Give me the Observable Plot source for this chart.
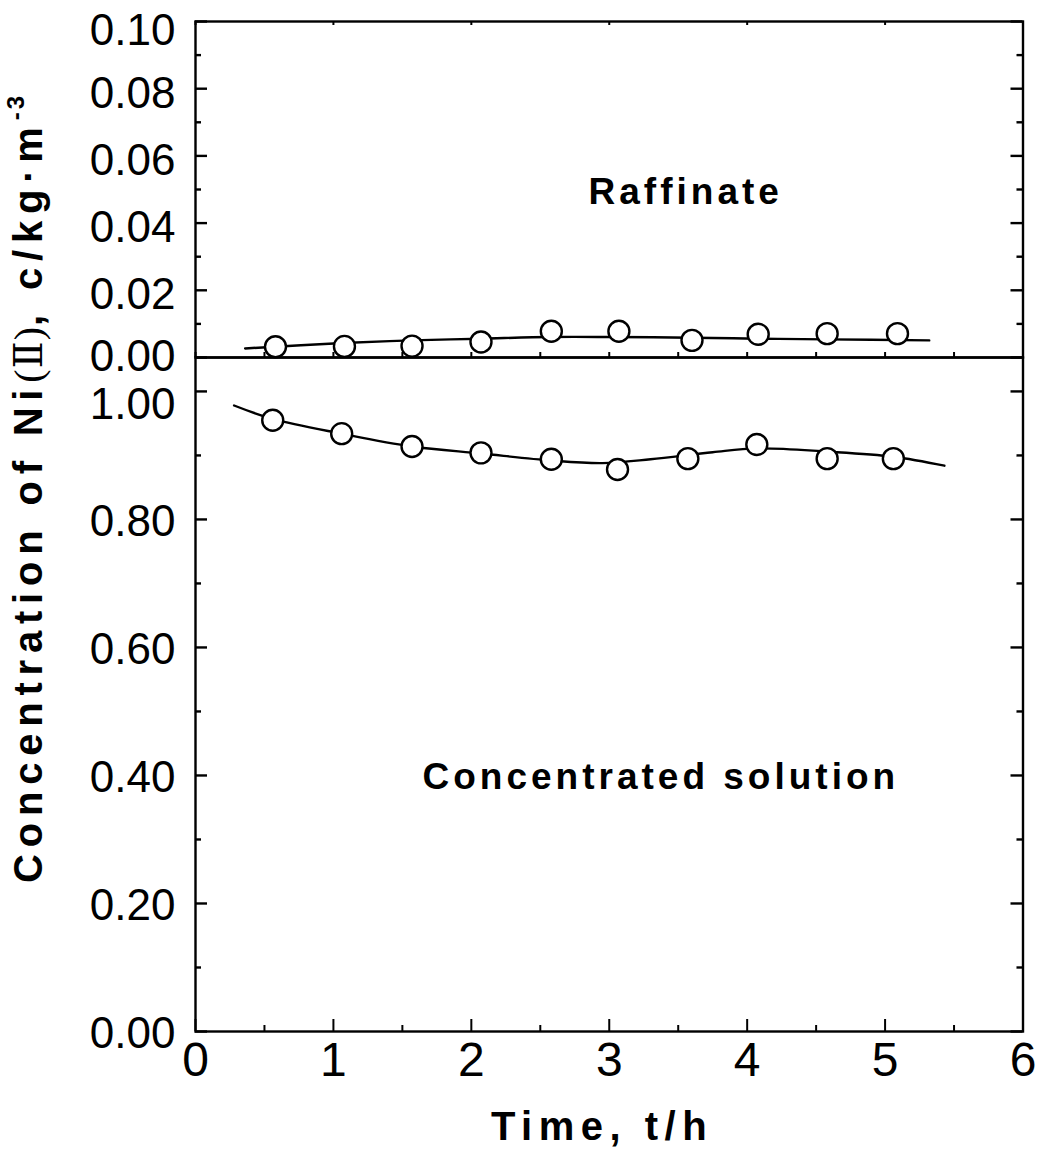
<!DOCTYPE html>
<html>
<head>
<meta charset="utf-8">
<script src="https://cdn.jsdelivr.net/npm/d3@7"></script>
<script src="https://cdn.jsdelivr.net/npm/@observablehq/plot@0.6"></script>
<style>
  html, body { margin: 0; padding: 0; background: #fff; }
  #chart { position: relative; width: 1045px; height: 1153px; overflow: hidden; background: #fff; }
  #chart > svg { position: absolute; left: 0; }
</style>
</head>
<body>
<div id="chart"></div>
<script>
// ---------- data ----------
const timeRaffinate = [0.58, 1.08, 1.57, 2.07, 2.58, 3.07, 3.60, 4.08, 4.58, 5.09];
const raffinate     = [0.0032, 0.0033, 0.0034, 0.0046, 0.0078, 0.0078, 0.0051, 0.0069, 0.0071, 0.0071];
const raffCurveTime = [0.36, 1.07, 1.57, 2.07, 2.57, 3.0, 3.6, 4.08, 4.58, 5.32];
const raffCurveConc = [0.0027, 0.0043, 0.0051, 0.0056, 0.0061, 0.0061, 0.0059, 0.0056, 0.0054, 0.0051];

const timeConcentrated = [0.56, 1.06, 1.57, 2.07, 2.58, 3.06, 3.57, 4.07, 4.58, 5.06];
const concentrated     = [0.955, 0.934, 0.914, 0.904, 0.894, 0.878, 0.895, 0.917, 0.895, 0.895];
const concCurveTime = [0.28, 0.56, 1.06, 1.57, 2.07, 2.58, 2.95, 3.3, 3.75, 4.07, 4.58, 5.06, 5.43];
const concCurveConc = [0.978, 0.957, 0.934, 0.914, 0.903, 0.892, 0.888, 0.894, 0.905, 0.911, 0.906, 0.898, 0.884];

const xTicks = [0, 1, 2, 3, 4, 5, 6];
const xMinorTicks = [0.5, 1.5, 2.5, 3.5, 4.5, 5.5];
const yTicksTop = [0, 0.02, 0.04, 0.06, 0.08, 0.10];
const yMinorTop = [0.01, 0.03, 0.05, 0.07, 0.09];
const yTicksBottom = [0, 0.2, 0.4, 0.6, 0.8, 1.0];
const yMinorBottom = [0.1, 0.3, 0.5, 0.7, 0.9];

const topLabel = [{t: 2.85, c: 0.0493, text: "Raffinate"}];
const bottomLabel = [{t: 1.646, c: 0.398, text: "Concentrated solution"}];

const xAxisTitle = "Time, t/h";

// ---------- layout ----------
const W = 1045, mL = 195, mR = 22.5;
const innerW = W - mL - mR;
const FONT = "'Liberation Sans', Arial, Helvetica, sans-serif";
const SW = 2.4;

const raffPts = timeRaffinate.map((t, i) => ({t, c: raffinate[i]}));
const raffCurve = raffCurveTime.map((t, i) => ({t, c: raffCurveConc[i]}));
const concPts = timeConcentrated.map((t, i) => ({t, c: concentrated[i]}));
const concCurve = concCurveTime.map((t, i) => ({t, c: concCurveConc[i]}));

const topH = 357, topMT = 21;
const topInnerH = topH - topMT;

const fmt = d => d.toFixed(2);

const topPlot = Plot.plot({
  width: W, height: topH,
  marginLeft: mL, marginRight: mR, marginTop: topMT, marginBottom: 0,
  x: {domain: [0, 6], axis: null},
  y: {domain: [0, 0.1]},
  style: {background: "transparent", overflow: "visible", fontFamily: FONT, color: "#000"},
  marks: [
    Plot.axisY(yTicksTop.filter(d => d > 0 && d < 0.1), {tickSize: 0, tickPadding: 20, fontSize: 44, dy: 5, tickFormat: fmt, label: null, fill: "#000"}),
    Plot.axisY(yTicksTop.filter(d => d >= 0.1), {tickSize: 0, tickPadding: 20, fontSize: 44, dy: 9, tickFormat: fmt, label: null, fill: "#000"}),
    Plot.axisY(yTicksTop.filter(d => d === 0), {tickSize: 0, tickPadding: 20, fontSize: 44, dy: -1, tickFormat: fmt, label: null, fill: "#000"}),
    // inward ticks, left & right
    Plot.tickY(yTicksTop, {y: d => d, insetRight: innerW - 12, stroke: "#000", strokeWidth: SW}),
    Plot.tickY(yMinorTop, {y: d => d, insetRight: innerW - 6, stroke: "#000", strokeWidth: SW}),
    Plot.tickY(yTicksTop, {y: d => d, insetLeft: innerW - 12, stroke: "#000", strokeWidth: SW}),
    Plot.tickY(yMinorTop, {y: d => d, insetLeft: innerW - 6, stroke: "#000", strokeWidth: SW}),
    // small ticks on zero line and top edge
    Plot.tickX(xTicks.concat(xMinorTicks), {x: d => d, insetTop: topInnerH - 5, stroke: "#000", strokeWidth: 2}),
    Plot.tickX(xTicks, {x: d => d, insetBottom: topInnerH - 4, stroke: "#000", strokeWidth: 2}),
    Plot.frame({stroke: "#000", strokeWidth: SW}),
    Plot.line(raffCurve, {x: "t", y: "c", curve: "catmull-rom", stroke: "#000", strokeWidth: SW}),
    Plot.dot(raffPts, {x: "t", y: "c", r: 10.5, fill: "#fff", stroke: "#000", strokeWidth: SW}),
    Plot.text(topLabel, {x: "t", y: "c", text: "text", textAnchor: "start", lineAnchor: "middle", fontSize: 37, fontWeight: "bold", fill: "#000"})
  ]
});
topPlot.style.top = "0px";

const botTop = 357, botH = 1153 - botTop, botMB = 122;
const botInnerH = botH - botMB;

const bottomPlot = Plot.plot({
  width: W, height: botH,
  marginLeft: mL, marginRight: mR, marginTop: 0, marginBottom: botMB,
  x: {domain: [0, 6]},
  y: {domain: [0, 1.053]},
  style: {background: "transparent", overflow: "visible", fontFamily: FONT, color: "#000"},
  marks: [
    Plot.axisY(yTicksBottom.filter(d => d < 1), {tickSize: 0, tickPadding: 20, fontSize: 44, dy: 2, tickFormat: fmt, label: null, fill: "#000"}),
    Plot.axisY(yTicksBottom.filter(d => d >= 1), {tickSize: 0, tickPadding: 20, fontSize: 44, dy: 13, tickFormat: fmt, label: null, fill: "#000"}),
    Plot.axisX(xTicks, {tickSize: 0, tickPadding: 10, fontSize: 48, tickFormat: d => String(d), label: null, fill: "#000"}),
    Plot.tickY(yTicksBottom, {y: d => d, insetRight: innerW - 12, stroke: "#000", strokeWidth: SW}),
    Plot.tickY(yMinorBottom, {y: d => d, insetRight: innerW - 6, stroke: "#000", strokeWidth: SW}),
    Plot.tickY(yTicksBottom, {y: d => d, insetLeft: innerW - 12, stroke: "#000", strokeWidth: SW}),
    Plot.tickY(yMinorBottom, {y: d => d, insetLeft: innerW - 6, stroke: "#000", strokeWidth: SW}),
    Plot.tickX(xTicks, {x: d => d, insetTop: botInnerH - 12, stroke: "#000", strokeWidth: 2}),
    Plot.tickX(xMinorTicks, {x: d => d, insetTop: botInnerH - 6, stroke: "#000", strokeWidth: 2}),
    Plot.frame({stroke: "#000", strokeWidth: SW}),
    Plot.line(concCurve, {x: "t", y: "c", curve: "catmull-rom", stroke: "#000", strokeWidth: SW}),
    Plot.dot(concPts, {x: "t", y: "c", r: 10.5, fill: "#fff", stroke: "#000", strokeWidth: SW}),
    Plot.text(bottomLabel, {x: "t", y: "c", text: "text", textAnchor: "start", lineAnchor: "middle", fontSize: 37, fontWeight: "bold", fill: "#000"})
  ]
});
bottomPlot.style.top = botTop + "px";

const chart = document.getElementById("chart");
chart.appendChild(topPlot);
chart.appendChild(bottomPlot);

// letter spacing for the bold in-plot labels
for (const svg of [topPlot, bottomPlot]) {
  d3.select(svg).selectAll("g[aria-label='text'] text").attr("letter-spacing", "4px");
}

// overlay for the axis titles
const ns = "http://www.w3.org/2000/svg";
const ov = d3.select(chart).append("svg")
  .attr("xmlns", ns)
  .attr("width", W).attr("height", 1153)
  .style("top", "0px").style("pointer-events", "none");

const yt = ov.append("text")
  .attr("transform", "translate(42,488) rotate(-90)")
  .attr("text-anchor", "middle")
  .attr("font-family", FONT)
  .attr("font-weight", "bold")
  .attr("font-size", 40)
  .attr("letter-spacing", "6.8px")
  .attr("fill", "#000");
yt.append("tspan").text("Concentration of Ni");
yt.append("tspan").attr("font-family", "'Liberation Serif', 'DejaVu Serif', serif").attr("font-weight", "normal").attr("letter-spacing", "1px").text("(Ⅱ)");
yt.append("tspan").text(", c/kg·m");
yt.append("tspan").attr("dy", -18).attr("font-size", 24).attr("letter-spacing", "3px").text("-3");

ov.append("text")
  .attr("x", 602).attr("y", 1140)
  .attr("text-anchor", "middle")
  .attr("font-family", FONT)
  .attr("font-weight", "bold")
  .attr("font-size", 40)
  .attr("letter-spacing", "6.5px")
  .attr("fill", "#000")
  .text(xAxisTitle);
</script>
</body>
</html>
